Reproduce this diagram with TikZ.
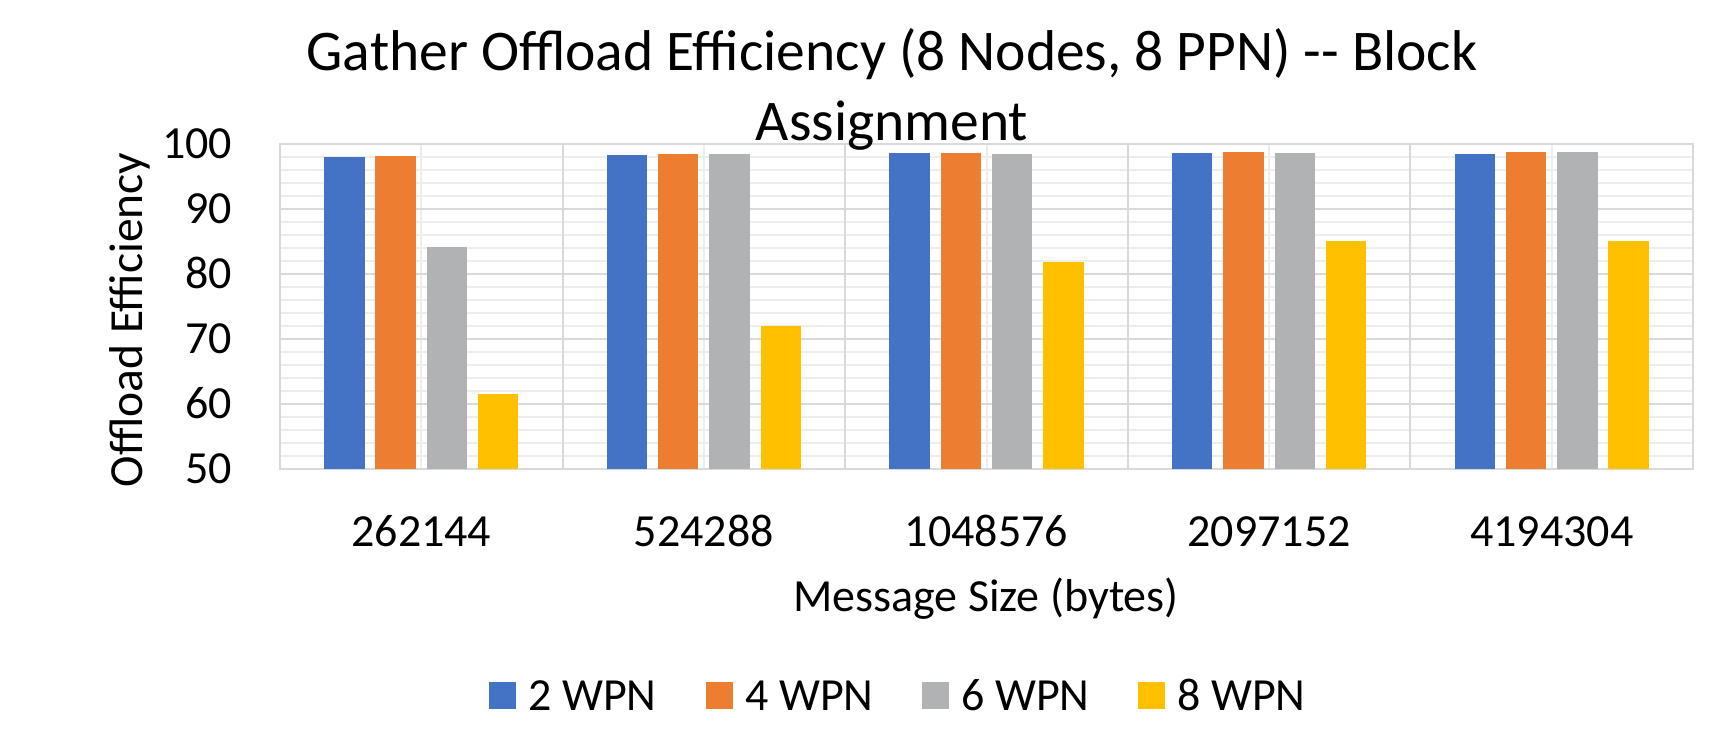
\documentclass[tikz,border=0pt]{standalone}
\usepackage{fontspec}
\setmainfont{Carlito}
\definecolor{ser0}{HTML}{4472C4}
\definecolor{ser1}{HTML}{ED7D31}
\definecolor{ser2}{HTML}{B1B2B3}
\definecolor{ser3}{HTML}{FFC000}
\definecolor{gridmajor}{HTML}{D9D9D9}
\definecolor{gridminor}{HTML}{EDEDED}
\newcommand\fsz[1]{\fontsize{#1}{#1}\selectfont}
% plot area: x from 280 to 1693, value 50 at y=469, value 100 at y=144
\newcommand\catw{282.6}
\newcommand\bargroup[5]{%
  \foreach \v [count=\j from 0] in {#2,#3,#4,#5} {
    \pgfmathsetmacro\xl{280+\catw*#1+44.2+51.25*\j}
    \pgfmathsetmacro\yt{469-6.5*(\v-50)}
    \fill[ser\j] (\xl,\yt) rectangle ({\xl+40.4},469);
  }}
\tikzset{
  lbl/.style={inner sep=0pt, outer sep=0pt, font=\fsz{46}},
  ttl/.style={inner sep=0pt, outer sep=0pt, font=\fsz{57.5}},
  legsq/.style={inner sep=0pt, outer sep=0pt, minimum size=27pt},
}
\begin{document}
\begin{tikzpicture}[x=1pt,y=-1pt]
\useasboundingbox[fill=white] (0,0) rectangle (1725,729);

% minor horizontal grid (every 2 units)
\foreach \v in {52,54,...,98}
  \draw[gridminor, line width=2pt] (280,{469-6.5*(\v-50)}) -- (1693,{469-6.5*(\v-50)});
% minor vertical grid at category centres
\foreach \i in {0,...,4}
  \draw[gridminor, line width=2pt] ({280+\catw*(\i+0.5)},144) -- ({280+\catw*(\i+0.5)},469);
% major horizontal grid (every 10 units)
\foreach \v in {60,70,80,90}
  \draw[gridmajor, line width=2pt] (280,{469-6.5*(\v-50)}) -- (1693,{469-6.5*(\v-50)});
% major vertical grid at category boundaries
\foreach \i in {1,...,4}
  \draw[gridmajor, line width=2pt] ({280+\catw*\i},144) -- ({280+\catw*\i},469);
% plot frame
\draw[gridmajor, line width=2.5pt] (280,144) rectangle (1693,469);

% bars
\bargroup{0}{98.05}{98.1}{84.2}{61.5}
\bargroup{1}{98.36}{98.4}{98.4}{72.05}
\bargroup{2}{98.57}{98.6}{98.5}{81.85}
\bargroup{3}{98.6}{98.72}{98.65}{85.05}
\bargroup{4}{98.46}{98.7}{98.7}{85.1}

% value axis labels
\foreach \v in {50,60,...,100}
  \node[lbl, anchor=base east] (ytick\v) at (232,{469-6.5*(\v-50)+14.5}) {\v};

% category labels
\foreach \c [count=\i from 0] in {262144,524288,1048576,2097152,4194304}
  \node[lbl, anchor=base] (cat\i) at ({280+\catw*(\i+0.5)},546) {\c};

% axis titles
\node[lbl, anchor=base] (xtitle) at (986,611.5) {Message Size (bytes)};
\node[lbl, anchor=base, rotate=90, font=\fsz{47.5}] (ytitle) at (142,320) {Offload Efficiency};

% chart title
\node[ttl, anchor=base] (title1) at (892,70) {Gather Offload Efficiency (8 Nodes, 8 PPN) -\kern0pt- Block};
\node[ttl, anchor=base] (title2) at (892,140) {Assignment};

% legend
\foreach \lx/\txt [count=\k from 0] in {489/2 WPN,706/4 WPN,922/6 WPN,1138/8 WPN} {
  \node[legsq, fill=ser\k, anchor=west] (legkey\k) at (\lx,695.5) {};
  \node[lbl, anchor=base west] (legtxt\k) at ({\lx+39.5},710) {\txt};
}
\end{tikzpicture}
\end{document}
